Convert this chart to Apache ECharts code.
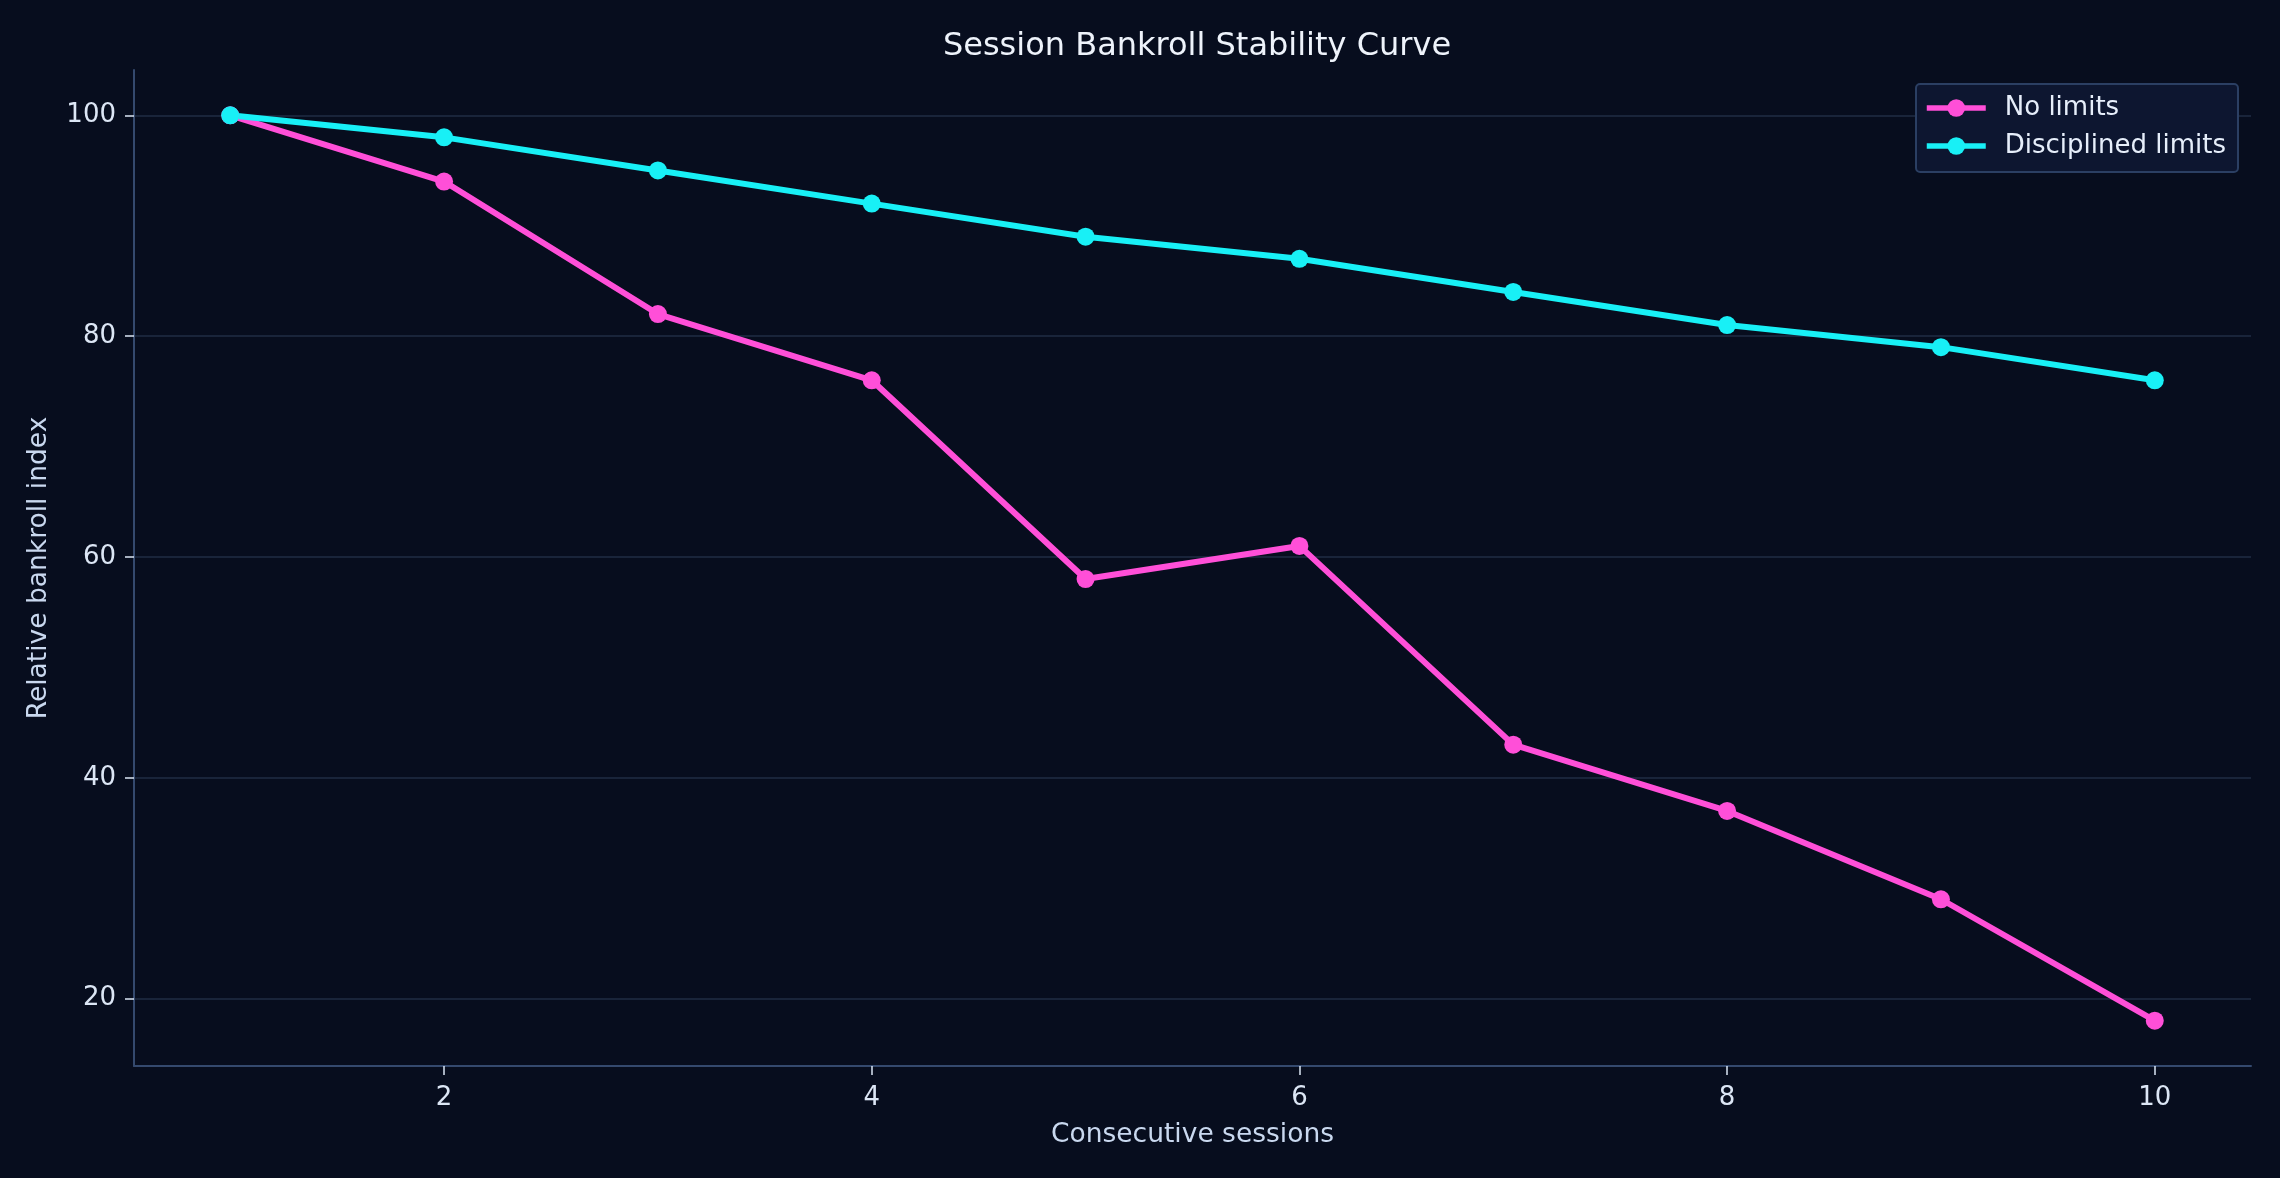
<!DOCTYPE html>
<html>
<head>
<meta charset="utf-8">
<script src="https://cdn.jsdelivr.net/npm/echarts@6/dist/echarts.min.js"></script>
<style>
  html, body { margin: 0; padding: 0; background: #070d1e; }
  #chart { width: 2280px; height: 1178px; }
</style>
</head>
<body>
<div id="chart"></div>
<script>
const sessions = [1, 2, 3, 4, 5, 6, 7, 8, 9, 10];
const noLimits = [100, 94, 82, 76, 58, 61, 43, 37, 29, 18];
const disciplined = [100, 98, 95, 92, 89, 87, 84, 81, 79, 76];
const xTicks = [2, 4, 6, 8, 10];
const yTicks = [20, 40, 60, 80, 100];

const font = 'DejaVu Sans';
const pink = '#ff4fd8';
const cyan = '#18f0f6';

function pairs(xs, ys) {
  return xs.map((x, i) => [x, ys[i]]);
}

const chart = echarts.init(document.getElementById('chart'));
chart.setOption({
  backgroundColor: '#070d1e',
  animation: false,
  title: {
    text: 'Session Bankroll Stability Curve',
    left: 1192,
    textAlign: 'center',
    top: 26,
    textStyle: { color: '#eef3fb', fontFamily: font, fontSize: 32, fontWeight: 'normal' }
  },
  grid: { left: 134, right: 29, top: 70, bottom: 112 },
  legend: {
    right: 42,
    top: 84,
    orient: 'vertical',
    itemWidth: 59,
    itemHeight: 22,
    itemGap: 12,
    padding: [11, 12, 13, 8],
    backgroundColor: '#0d1630',
    borderColor: '#2b3f63',
    borderWidth: 2,
    borderRadius: 4,
    lineStyle: { width: 5.5 },
    textStyle: { color: '#e6eefa', fontFamily: font, fontSize: 26, padding: [0, 0, 0, 14] },
    data: ['No limits', 'Disciplined limits']
  },
  xAxis: {
    type: 'value',
    min: 0.55,
    max: 10.45,
    name: 'Consecutive sessions',
    nameLocation: 'middle',
    nameGap: 56,
    nameTextStyle: { color: '#c9d8ef', fontFamily: font, fontSize: 26.5 },
    axisLine: { show: true, lineStyle: { color: '#34496e', width: 2 } },
    axisTick: { show: true, length: 9, lineStyle: { color: '#dce6f5', width: 1.5 }, customValues: xTicks },
    axisLabel: { color: '#dce6f5', fontFamily: font, fontSize: 26, margin: 19, customValues: xTicks },
    splitLine: { show: false }
  },
  yAxis: {
    type: 'value',
    min: 13.9,
    max: 104.1,
    name: 'Relative bankroll index',
    nameLocation: 'middle',
    nameGap: 81,
    nameTextStyle: { color: '#c9d8ef', fontFamily: font, fontSize: 26.5 },
    axisLine: { show: true, lineStyle: { color: '#34496e', width: 2 } },
    axisTick: { show: true, length: 9, lineStyle: { color: '#dce6f5', width: 1.5 }, customValues: yTicks },
    axisLabel: { color: '#dce6f5', fontFamily: font, fontSize: 26, margin: 18, padding: [4, 0, 0, 0], customValues: yTicks },
    splitLine: { show: true, lineStyle: { color: '#19243a', width: 2 } }
  },
  series: [
    {
      name: 'No limits',
      type: 'line',
      data: pairs(sessions, noLimits),
      symbol: 'circle',
      symbolSize: 18,
      lineStyle: { color: pink, width: 6 },
      itemStyle: { color: pink }
    },
    {
      name: 'Disciplined limits',
      type: 'line',
      data: pairs(sessions, disciplined),
      symbol: 'circle',
      symbolSize: 18,
      lineStyle: { color: cyan, width: 6 },
      itemStyle: { color: cyan }
    }
  ]
});
</script>
</body>
</html>
